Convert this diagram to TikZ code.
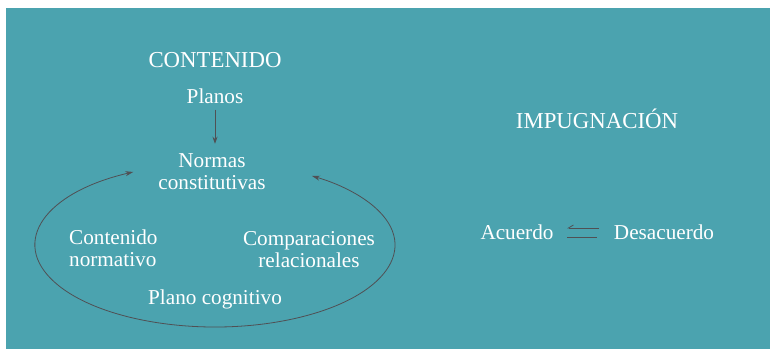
\documentclass[tikz,border=0pt]{standalone}
\usepackage{fontspec}
\setmainfont{Liberation Serif}
\usetikzlibrary{arrows.meta}
\definecolor{teal0}{RGB}{75,163,175}
\definecolor{arr}{RGB}{80,80,84}
\begin{document}
\begin{tikzpicture}[x=1pt,y=-1pt,
  lbl/.style={text=white,inner sep=0pt,font=\fontsize{21.2}{22}\selectfont,align=center},
  caps/.style={lbl,font=\fontsize{22.8}{24}\selectfont},
  conn/.style={draw=arr,line width=0.8pt,-{Stealth[length=7pt,width=5pt]}},
  loop/.style={draw=arr,line width=0.8pt,{Stealth[length=8pt,width=5pt]}-{Stealth[length=8pt,width=5pt]}}]
\useasboundingbox (0,0) rectangle (770,350);
\fill[white] (0,0) rectangle (770,350);
\fill[teal0] (6,8) rectangle (770,349);
\node[caps] (cont) at (215,60) {CONTENIDO};
\node[lbl] (planos) at (215,96) {Planos};
\node[lbl] (normas) at (212,172) {Normas\\constitutivas};
\node[lbl,anchor=west,align=left] (cnorm) at (69,248) {Contenido\\normativo};
\node[lbl] (comp) at (309,250) {Comparaciones\\relacionales};
\node[lbl] (plano) at (215,299) {Plano cognitivo};
\node[caps] (imp) at (597,119) {IMPUGNACIÓN};
\node[lbl] (acu) at (517,232) {Acuerdo};
\node[lbl] (des) at (664,232) {Desacuerdo};
\draw[conn,shorten <=6pt,shorten >=10pt] (planos.south) -- (planos.south |- normas.north);
\coordinate (c) at (215,245);
\draw[loop] (c) ++(117:180pt and 82pt) arc[start angle=117,end angle=417.4,x radius=180pt,y radius=82pt];
\coordinate (h1a) at (599,228);
\coordinate (h1b) at (567,228);
\coordinate (h2a) at (567,237);
\coordinate (h2b) at (597,237);
\draw[draw=arr,line width=0.8pt,-{Straight Barb[right,length=5pt,width=6pt]}] (h1a) -- (h1b);
\draw[draw=arr,line width=0.8pt] (h2a) -- (h2b);
\end{tikzpicture}
\end{document}
